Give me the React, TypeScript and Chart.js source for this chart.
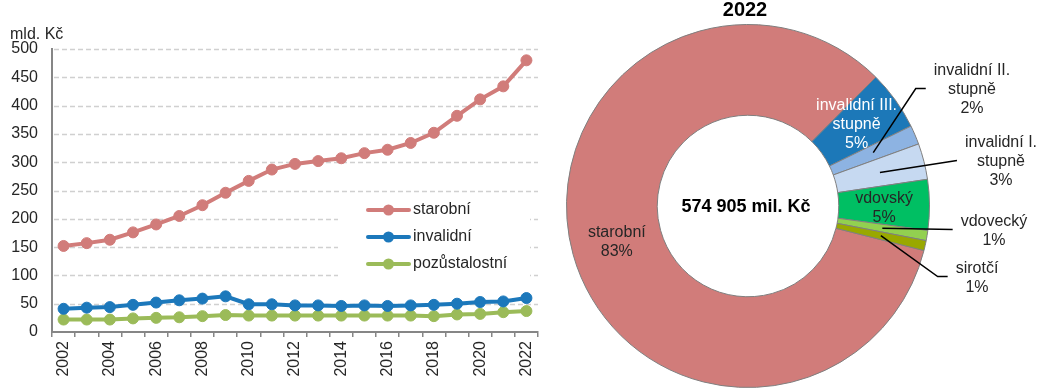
import React, { useEffect, useRef } from 'react';
import Chart from 'chart.js/auto';

// ---------- Line chart data ----------
const years = ['2002', '2003', '2004', '2005', '2006', '2007', '2008', '2009', '2010', '2011', '2012', '2013', '2014', '2015', '2016', '2017', '2018', '2019', '2020', '2021', '2022'];
const starobni = [152, 157, 163, 176, 190, 205, 224, 246, 267, 287, 297, 302, 307, 316, 322, 334, 352, 382, 411, 434, 480];
const invalidni = [41, 43, 44, 48, 52, 56, 59, 63, 49, 49, 47, 47, 46, 47, 46, 47, 48, 50, 53, 54, 60];
const pozustalostni = [22, 22, 22, 24, 25, 26, 28, 30, 29, 29, 29, 29, 29, 29, 29, 29, 28, 31, 32, 35, 37];
const seriesNames = ['starobní', 'invalidní', 'pozůstalostní'];
const yMin = 0;
const yMax = 500;
const yStep = 50;
const yUnit = 'mld. Kč';

// ---------- Donut data (mil. Kč, 2022) ----------
const donutTitle = '2022';
const donutCategories = ['starobní', 'invalidní III.\nstupně', 'invalidní II.\nstupně', 'invalidní I.\nstupně', 'vdovský', 'vdovecký', 'sirotčí'];
const donutValues = [480005, 30500, 9800, 18400, 25900, 5200, 5100];
const donutUnit = 'mil. Kč';

// ---------- Styles ----------
const FONT = '"Liberation Sans", Arial, Helvetica, sans-serif';
const TEXT = '#262626';
const AXIS = '#868686';
const GRID = '#d0d0d0';
const lineColors = ['#d17c7a', '#1c78bb', '#9bbb59'];
const donutColors = ['#d17c7a', '#1c78b8', '#8db3e2', '#c6d9f1', '#00bf63', '#92d050', '#99a800'];

// label placement for donut annotations (relative to donut centre)
const donutLabelLayout = [
  { inside: true, color: TEXT, dx: 0, dy: 0 },
  { inside: true, color: '#ffffff', dx: -2, dy: -2 },
  { inside: false, dx: 224, dy: -116, elbow: true },
  { inside: false, dx: 253, dy: -44, elbow: false },
  { inside: true, color: TEXT, dx: 0, dy: 3 },
  { inside: false, dx: 246, dy: 25, elbow: false },
  { inside: false, dx: 229, dy: 72, elbow: true },
];

function LineChart() {
  const ref = useRef<HTMLCanvasElement>(null);
  useEffect(() => {
    if (!ref.current) return;
    const gridPlugin = {
      id: 'dashedGrid',
      beforeDatasetsDraw(chart: any) {
        const { ctx, chartArea, scales } = chart;
        const ys = scales.y;
        ctx.save();
        ctx.strokeStyle = GRID;
        ctx.lineWidth = 1.5;
        ctx.setLineDash([5, 3]);
        ys.ticks.forEach((t: any) => {
          if (t.value === yMin) return;
          const y = Math.round(ys.getPixelForValue(t.value)) + 0.5;
          ctx.beginPath();
          ctx.moveTo(chartArea.left + 2, y);
          ctx.lineTo(chartArea.right, y);
          ctx.stroke();
        });
        ctx.restore();
      },
    };
    const unitPlugin = {
      id: 'unitTitle',
      afterDraw(chart: any) {
        const { ctx, chartArea } = chart;
        ctx.save();
        ctx.font = `16px ${FONT}`;
        ctx.fillStyle = TEXT;
        ctx.textAlign = 'left';
        ctx.textBaseline = 'middle';
        ctx.fillText(yUnit, chartArea.left - 42, chartArea.top - 14);
        ctx.restore();
      },
    };
    const legendPlugin = {
      id: 'boxLegend',
      afterDatasetsDraw(chart: any) {
        const { ctx, chartArea } = chart;
        const x0 = chartArea.left + 286;
        const y0 = chartArea.top + 151;
        ctx.save();
        ctx.fillStyle = '#ffffff';
        ctx.fillRect(x0, y0, 192, 85);
        chart.data.datasets.forEach((ds: any, i: number) => {
          const cy = y0 + 10 + i * 27;
          ctx.strokeStyle = ds.borderColor;
          ctx.lineWidth = 4;
          ctx.lineCap = 'round';
          ctx.beginPath();
          ctx.moveTo(x0 + 30, cy);
          ctx.lineTo(x0 + 71, cy);
          ctx.stroke();
          ctx.fillStyle = ds.borderColor;
          ctx.beginPath();
          ctx.arc(x0 + 50.5, cy, 5.5, 0, Math.PI * 2);
          ctx.fill();
          ctx.fillStyle = TEXT;
          ctx.font = `16px ${FONT}`;
          ctx.textAlign = 'left';
          ctx.textBaseline = 'middle';
          ctx.fillText(ds.label, x0 + 75, cy);
        });
        ctx.restore();
      },
    };
    const seriesData = [starobni, invalidni, pozustalostni];
    const chart = new Chart(ref.current, {
      type: 'line',
      data: {
        labels: years,
        datasets: seriesData.map((d, i) => ({
          label: seriesNames[i],
          data: d,
          borderColor: lineColors[i],
          backgroundColor: lineColors[i],
          pointBackgroundColor: lineColors[i],
          pointBorderColor: lineColors[i],
          borderWidth: 4,
          pointRadius: 5.5,
          pointBorderWidth: 1,
          tension: 0,
          fill: false,
        })),
      },
      options: {
        animation: false,
        responsive: false,
        events: [],
        layout: { padding: { top: 49, right: 22, left: 0, bottom: 0 } },
        plugins: { legend: { display: false }, tooltip: { enabled: false }, title: { display: false } },
        scales: {
          x: {
            offset: true,
            afterFit: (s: any) => { s.height = 57; },
            grid: { display: true, drawOnChartArea: false, drawTicks: true, tickLength: 5, offset: true, color: AXIS, lineWidth: 1.5 },
            border: { display: true, color: AXIS, width: 2 },
            ticks: {
              autoSkip: false,
              minRotation: 90,
              maxRotation: 90,
              padding: 4,
              color: TEXT,
              font: { family: FONT, size: 16 },
              callback: function (this: any, _v: any, idx: number) {
                return idx % 2 === 0 ? years[idx] : '';
              },
            },
          },
          y: {
            min: yMin,
            max: yMax,
            afterFit: (s: any) => { s.width = 52; },
            grid: { display: false, drawTicks: false },
            border: { display: true, color: AXIS, width: 2 },
            ticks: { stepSize: yStep, padding: 14, color: TEXT, font: { family: FONT, size: 16 } },
          },
        },
      } as any,
      plugins: [gridPlugin, unitPlugin, legendPlugin],
    });
    return () => chart.destroy();
  }, []);
  return <canvas ref={ref} width={560} height={389} style={{ position: 'absolute', left: 0, top: 0 }} />;
}

function DonutChart() {
  const ref = useRef<HTMLCanvasElement>(null);
  useEffect(() => {
    if (!ref.current) return;
    const total = donutValues.reduce((a, b) => a + b, 0);
    const totalText = String(total).replace(/\B(?=(\d{3})+(?!\d))/g, ' ') + ' ' + donutUnit;
    const labelPlugin = {
      id: 'donutLabels',
      afterDatasetsDraw(chart: any) {
        const { ctx } = chart;
        const meta = chart.getDatasetMeta(0);
        ctx.save();
        const lh = 19;
        let cx = 0, cy = 0;
        meta.data.forEach((arc: any, i: number) => {
          const p = arc.getProps(['x', 'y', 'startAngle', 'endAngle', 'innerRadius', 'outerRadius'], true);
          cx = p.x; cy = p.y;
          const mid = (p.startAngle + p.endAngle) / 2;
          const r = (p.innerRadius + p.outerRadius) / 2;
          const ax = p.x + Math.cos(mid) * r;
          const ay = p.y + Math.sin(mid) * r;
          const pct = Math.round((donutValues[i] / total) * 100) + '%';
          const lines = [...donutCategories[i].split('\n'), pct];
          const lay = donutLabelLayout[i];
          ctx.font = `16px ${FONT}`;
          ctx.textAlign = 'center';
          ctx.textBaseline = 'middle';
          let tx: number, ty: number;
          if (lay.inside) {
            tx = ax + lay.dx; ty = ay + lay.dy;
            ctx.fillStyle = lay.color;
          } else {
            tx = p.x + lay.dx; ty = p.y + lay.dy;
            ctx.fillStyle = TEXT;
            const w = Math.max(...lines.map((l) => ctx.measureText(l).width));
            const ex = tx - w / 2 - 8;
            const ey = ty - 1.5;
            ctx.strokeStyle = '#000000';
            ctx.lineWidth = 1.5;
            ctx.beginPath();
            ctx.moveTo(ax, ay);
            if (lay.elbow) {
              ctx.lineTo(ex - 10, ey);
            }
            ctx.lineTo(ex, ey);
            ctx.stroke();
          }
          const y0 = ty - ((lines.length - 1) / 2) * lh;
          lines.forEach((l, k) => ctx.fillText(l, tx, y0 + k * lh));
        });
        // centre text
        ctx.fillStyle = '#000000';
        ctx.font = `bold 18px ${FONT}`;
        ctx.textAlign = 'center';
        ctx.textBaseline = 'middle';
        ctx.fillText(totalText, cx - 2, cy + 1);
        // title
        ctx.font = `bold 20px ${FONT}`;
        ctx.fillText(donutTitle, cx - 3, 10);
        ctx.restore();
      },
    };
    const chart = new Chart(ref.current, {
      type: 'doughnut',
      data: {
        labels: donutCategories,
        datasets: [
          {
            data: donutValues,
            backgroundColor: donutColors,
            borderColor: '#7f7f7f',
            borderWidth: 1,
          },
        ],
      },
      options: {
        animation: false,
        responsive: false,
        events: [],
        rotation: 104.2,
        cutout: '50%',
        layout: { padding: { top: 24, bottom: 1, left: 6, right: 108 } },
        plugins: { legend: { display: false }, tooltip: { enabled: false } },
      } as any,
      plugins: [labelPlugin],
    });
    return () => chart.destroy();
  }, []);
  return <canvas ref={ref} width={478} height={389} style={{ position: 'absolute', left: 560, top: 0 }} />;
}

export default function App() {
  return (
    <div style={{ position: 'absolute', left: 0, top: 0, width: 1038, height: 389, background: '#ffffff', overflow: 'hidden' }}>
      <LineChart />
      <DonutChart />
    </div>
  );
}
